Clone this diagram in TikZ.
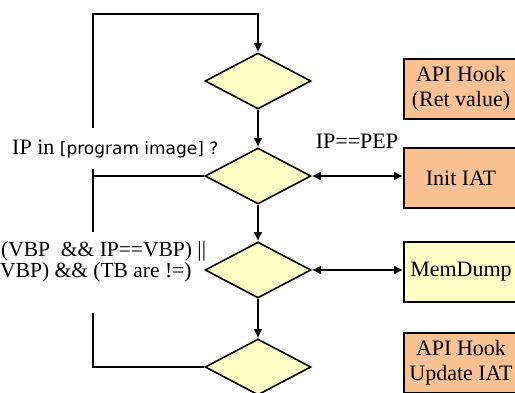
\documentclass[tikz,border=0pt]{standalone}
\usepackage{fontspec}
\setmainfont{Liberation Serif}
\newfontfamily\labelsans{DejaVu Sans}
\usetikzlibrary{shapes.geometric,arrows.meta}
\definecolor{condfill}{HTML}{FFFFC8}
\definecolor{hookfill}{HTML}{FAC292}
\tikzset{
    cond/.style={diamond, draw, line width=1.6pt, fill=condfill, minimum width=106pt, minimum height=56pt, inner sep=0pt},
    stage/.style={rectangle, draw, line width=1.6pt, minimum width=114pt, minimum height=60pt, align=center, inner sep=0pt},
    flow/.style={line width=1.6pt, -{Latex[length=9pt,width=9pt]}},
    flowboth/.style={line width=1.6pt, {Latex[length=9pt,width=9pt]}-{Latex[length=9pt,width=9pt]}},
    wire/.style={line width=1.6pt},
    lbl/.style={inner sep=0pt}
}
\begin{document}
\begin{tikzpicture}[x=1pt,y=-1pt,font=\fontsize{22}{25}\selectfont]
    \useasboundingbox (0,0) rectangle (515,392);
    \clip (0,0) rectangle (515,392);
    % Decision diamonds
    \foreach \i/\y in {1/81,2/176,3/270,4/367}
    {
        \node (d\i) at (258,\y) [cond] {};
    }
    \foreach \a/\b in {1/2,2/3,3/4}
    {
        \draw[flow] (d\a.south) -- (d\b.north);
    }
    % Stages on the right
    \node (b1) at (461,89) [stage, fill=hookfill] {API Hook\\(Ret value)};
    \node (b2) at (461,178) [stage, fill=hookfill] {Init IAT};
    \node (b3) at (461,272) [stage, fill=condfill] {MemDump};
    \node (b4) at (461,363) [stage, fill=hookfill] {API Hook\\Update IAT};
    \draw[flowboth] (d2.east) -- (d2.east -| b2.west);
    \draw[flowboth] (d3.east) -- (d3.east -| b3.west);
    % Loop lines on the left
    \coordinate (up1) at (93,128);
    \coordinate (top) at (93,14);
    \draw[flow] (up1) -- (top) -| (d1.north);
    \coordinate (mid) at (93,176);
    \coordinate (mida) at (93,169);
    \coordinate (midb) at (93,232);
    \draw[wire] (d2.west) -- (mid);
    \draw[wire] (mida) -- (midb);
    \coordinate (low) at (93,313);
    \draw[wire] (low) |- (d4.west);
    % Conditions
    \node (q1) at (12,149) [lbl, anchor=west] {IP in {\labelsans\fontsize{17}{20}\selectfont [program image] ?}};
    \node (pep) at (357,141) [lbl] {IP==PEP};
    \node (q2) at (1,251) [lbl, anchor=west, font=\fontsize{21.5}{24}\selectfont] {(VBP~ \&\& IP==VBP) ||};
    \node (q3) at (0,272) [lbl, anchor=west, font=\fontsize{21.5}{24}\selectfont] {VBP) \&\& (TB are !=)};
\end{tikzpicture}
\end{document}
